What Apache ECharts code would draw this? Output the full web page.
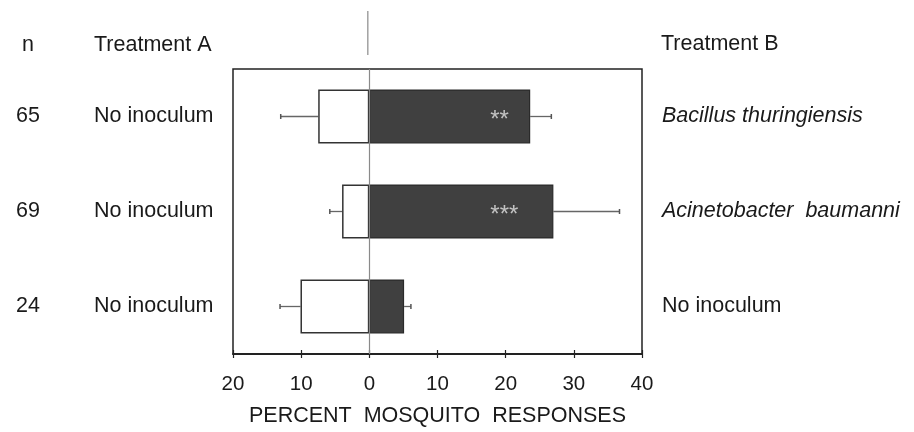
<!DOCTYPE html>
<html>
<head>
<meta charset="utf-8">
<script src="https://cdn.jsdelivr.net/npm/echarts@6/dist/echarts.min.js"></script>
<style>
  html, body { margin: 0; padding: 0; background: #fff; }
  #chart { width: 914px; height: 432px; }
</style>
</head>
<body>
<div id="chart"></div>
<script>
  // rows, top to bottom
  var counts = ['65', '69', '24'];
  var treatmentA = ['No inoculum', 'No inoculum', 'No inoculum'];
  var treatmentB = ['Bacillus thuringiensis', 'Acinetobacter  baumanni', 'No inoculum'];
  var italicB = [true, true, false];
  // percent responses (A shown to the left as negative)
  var valuesA = [-7.5, -4.0, -10.1];
  var valuesB = [23.6, 27.0, 5.1];
  // error bar ends
  var errA = [-13.0, -5.8, -13.1];
  var errB = [26.7, 36.7, 6.1];
  // significance marks
  var sigText = ['**', '***', ''];
  var sigPos = [19.1, 19.8, null];
  var xTicks = [-20, -10, 0, 10, 20, 30, 40];

  var font = 'Liberation Sans, Arial, sans-serif';
  var fs = 21.5;
  var txt = '#1a1a1a';
  var rows = counts.map(function (c, i) { return String(i); });

  var myChart = echarts.init(document.getElementById('chart'));

  var option = {
    animation: false,
    grid: {
      left: 233, right: 272, top: 69, bottom: 78,
      outerBoundsMode: 'none', containLabel: false,
      show: true, borderColor: '#222', borderWidth: 1.5
    },
    xAxis: [{
      type: 'value',
      min: xTicks[0], max: xTicks[xTicks.length - 1], interval: 10,
      position: 'bottom',
      axisLine: { show: true, lineStyle: { color: '#222', width: 1.8 } },
      axisTick: { show: true, length: 4, lineStyle: { color: '#222', width: 1.2 } },
      splitLine: { show: false },
      axisLabel: {
        margin: 20, fontFamily: font, fontSize: 20.5, color: txt,
        formatter: function (v) { return String(Math.abs(v)); }
      },
      name: 'PERCENT  MOSQUITO  RESPONSES',
      nameLocation: 'middle', nameGap: 51,
      nameTextStyle: { fontFamily: font, fontSize: fs, color: txt }
    }, {
      // inner half of the crossing ticks
      type: 'value',
      min: xTicks[0], max: xTicks[xTicks.length - 1], interval: 10,
      position: 'bottom',
      axisLine: { show: false },
      axisTick: { show: true, inside: true, length: 4, lineStyle: { color: '#222', width: 1.2 } },
      axisLabel: { show: false },
      splitLine: { show: false }
    }],
    yAxis: [{
      type: 'category', data: rows, inverse: true,
      axisLine: { show: false }, axisTick: { show: false },
      axisLabel: {
        align: 'left', margin: 233,
        formatter: function (v, i) {
          return '{n|' + counts[i] + '}{t|' + treatmentA[i] + '}';
        },
        rich: {
          n: { width: 56, align: 'center', fontFamily: font, fontSize: fs, color: txt },
          t: { padding: [0, 0, 0, 38], fontFamily: font, fontSize: fs, color: txt }
        }
      }
    }, {
      type: 'category', data: rows, inverse: true, position: 'right',
      axisLine: { show: false }, axisTick: { show: false },
      axisLabel: {
        margin: 20,
        formatter: function (v, i) {
          return (italicB[i] ? '{i|' : '{r|') + treatmentB[i] + '}';
        },
        rich: {
          i: { fontFamily: font, fontSize: fs, fontStyle: 'italic', color: txt },
          r: { fontFamily: font, fontSize: fs, color: txt }
        }
      }
    }],
    graphic: [
      { id: 'hn', type: 'text', left: 22, top: 34, style: { text: 'n', font: fs + 'px ' + font, fill: txt } },
      { id: 'ha', type: 'text', left: 94, top: 34, style: { text: 'Treatment A', font: fs + 'px ' + font, fill: txt } },
      { id: 'hb', type: 'text', left: 661, top: 33, style: { text: 'Treatment B', font: fs + 'px ' + font, fill: txt } }
    ],
    series: [{
      type: 'custom',
      name: 'errors',
      z: 1,
      renderItem: function (params, api) {
        var i = api.value(0);
        var kids = [];
        [[valuesA[i], errA[i]], [valuesB[i], errB[i]]].forEach(function (p) {
          var a = api.coord([p[0], i]);
          var b = api.coord([p[1], i]);
          kids.push({ type: 'line', shape: { x1: a[0], y1: a[1], x2: b[0], y2: b[1] },
            style: { stroke: '#666', lineWidth: 1.3 } });
          kids.push({ type: 'line', shape: { x1: b[0], y1: b[1] - 2.5, x2: b[0], y2: b[1] + 2.5 },
            style: { stroke: '#555', lineWidth: 1.5 } });
        });
        return { type: 'group', children: kids };
      },
      data: rows.map(function (r, i) { return [i]; }),
      encode: { y: 0 }
    }, {
      type: 'bar', name: 'Treatment A', stack: 'r', z: 3,
      barWidth: '57%',
      itemStyle: { color: '#fff', borderColor: '#333', borderWidth: 1.5 },
      data: valuesA,
      markLine: {
        silent: true, symbol: 'none', z: 5,
        label: { show: false },
        lineStyle: { color: '#8a8a8a', width: 1.2, type: 'solid' },
        data: [{ xAxis: 0 }]
      }
    }, {
      type: 'bar', name: 'Treatment B', stack: 'r', z: 3,
      barWidth: '57%',
      itemStyle: { color: '#404040', borderColor: '#2a2a2a', borderWidth: 1.2 },
      data: valuesB
    }, {
      type: 'scatter', name: 'sig', z: 6,
      symbolSize: 0,
      label: {
        show: true, position: 'inside', offset: [0, 4],
        formatter: function (p) { return sigText[p.dataIndex]; },
        fontFamily: font, fontSize: 24, color: '#e2e2e2'
      },
      data: sigPos.map(function (v, i) { return v === null ? [null, i] : [v, i]; })
    }]
  };

  myChart.setOption(option);

  // zero line continues above the frame
  var zx = myChart.convertToPixel({ xAxisIndex: 0 }, 0);
  myChart.setOption({
    graphic: [{
      id: 'zeroTop', type: 'line', shape: { x1: zx - 1.5, y1: 11, x2: zx - 1.5, y2: 55 },
      style: { stroke: '#8a8a8a', lineWidth: 1.2 }
    }]
  });

  window.addEventListener('resize', function () { myChart.resize(); });
</script>
</body>
</html>
